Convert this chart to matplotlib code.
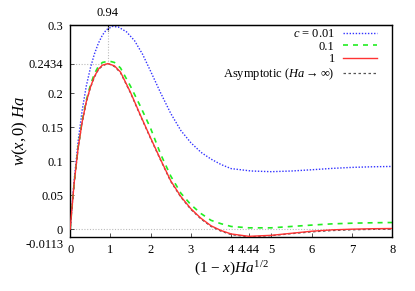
import matplotlib as mpl
mpl.use("Agg")
import matplotlib.pyplot as plt
import matplotlib.transforms as mtransforms

mpl.rcParams["font.family"] = ["Liberation Serif", "DejaVu Serif"]
mpl.rcParams["mathtext.fontset"] = "custom"
mpl.rcParams["mathtext.rm"] = "Liberation Serif"
mpl.rcParams["mathtext.it"] = "Liberation Serif:italic"
mpl.rcParams["xtick.direction"] = "in"
mpl.rcParams["ytick.direction"] = "in"

# VALUES
x_c001 = [0, 0.1, 0.2, 0.3, 0.4, 0.5, 0.6, 0.7, 0.8, 0.9, 1.05, 1.2, 1.4, 1.6, 1.8, 2.0,
          2.25, 2.5, 2.75, 3.0, 3.25, 3.5, 3.75, 4.0, 4.5, 5.0, 5.5, 6.0, 6.5, 7.0, 7.5, 8.0]
w_c001 = [0, 0.072, 0.130, 0.175, 0.210, 0.236, 0.257, 0.273, 0.285, 0.293, 0.298, 0.297,
          0.290, 0.277, 0.257, 0.232, 0.200, 0.170, 0.145, 0.127, 0.113, 0.103, 0.095, 0.089,
          0.0855, 0.0845, 0.0855, 0.0873, 0.0893, 0.0908, 0.0917, 0.0922]

x_c01 = [0, 0.1, 0.2, 0.3, 0.4, 0.5, 0.6, 0.7, 0.8, 0.97, 1.1, 1.25, 1.5, 1.75, 2.0,
         2.25, 2.5, 2.75, 3.0, 3.25, 3.5, 3.75, 4.0, 4.44, 5.0, 5.5, 6.0, 6.5, 7.0, 7.5, 8.0]
w_c01 = [0, 0.068, 0.121, 0.160, 0.189, 0.211, 0.228, 0.239, 0.245, 0.247, 0.245, 0.237,
         0.210, 0.180, 0.148, 0.110, 0.078, 0.053, 0.036, 0.023, 0.013, 0.008, 0.004,
         0.002, 0.002, 0.004, 0.006, 0.0078, 0.0088, 0.0094, 0.0098]

x_c1 = [0, 0.1, 0.2, 0.3, 0.4, 0.5, 0.6, 0.7, 0.8, 0.94, 1.1, 1.25, 1.5, 1.75, 2.0,
        2.25, 2.5, 2.75, 3.0, 3.25, 3.5, 3.75, 4.0, 4.44, 5.0, 5.5, 6.0, 6.5, 7.0, 7.5, 8.0]
w_c1 = [0, 0.068, 0.120, 0.158, 0.187, 0.208, 0.224, 0.235, 0.241, 0.2434, 0.240, 0.231,
        0.201, 0.167, 0.134, 0.102, 0.071, 0.048, 0.030, 0.016, 0.005, -0.002, -0.007,
        -0.0105, -0.009, -0.006, -0.003, -0.001, 0.0, 0.0007, 0.001]

x_asym = x_c1
w_asym = [0, 0.067, 0.119, 0.157, 0.186, 0.207, 0.223, 0.234, 0.240, 0.2434, 0.239, 0.230,
          0.200, 0.166, 0.133, 0.101, 0.070, 0.047, 0.029, 0.015, 0.004, -0.003, -0.008,
          -0.0113, -0.0095, -0.0066, -0.0040, -0.0021, -0.0009, -0.0003, 0.0]

peak_x, peak_w = 0.94, 0.2434
min_x, min_w = 4.44, -0.0113

xticks = [0, 1, 2, 3, 4, 4.44, 5, 6, 7, 8]
xticklabels = ["0", "1", "2", "3", "4", "4.44", "5", "6", "7", "8"]
yticks = [-0.0113, 0, 0.05, 0.1, 0.15, 0.2, 0.2434, 0.3]
yticklabels = ["-0.0113", "0", "0.05", "0.1", "0.15", "0.2", "0.2434", "0.3"]

fig = plt.figure(figsize=(4.15, 2.91), dpi=100)
ax = fig.add_axes([0.169, 0.186, 0.776, 0.728])

# GUIDE LINES
guide = dict(color="#bbbbbb", lw=0.8, ls=(0, (1, 1.5)), zorder=1)
ax.axhline(0, **guide)
ax.plot([0, peak_x], [peak_w, peak_w], **guide)
ax.plot([peak_x, peak_x], [peak_w, 0.3], **guide)

ax.plot(x_c001, w_c001, color="#3333ff", lw=1.0, ls=(0, (1, 1.2)), label=r"$c$ = 0.01")
ax.plot(x_c01, w_c01, color="#22ee22", lw=1.2, ls=(0, (3, 3)), label="0.1")
ax.plot(x_asym, w_asym, color="#555555", lw=0.9, ls=(0, (2, 2)), zorder=2)
ax.plot(x_c1, w_c1, color="#ff3333", lw=1.0, label="1", zorder=3)
ax.plot([], [], color="#555555", lw=0.9, ls=(0, (2, 2)),
        label=r"Asymptotic ($Ha \rightarrow \infty$)")

ax.set_xlim(0, 8)
ax.set_ylim(min_w, 0.3)
ax.set_xticks(xticks)
ax.set_xticklabels(xticklabels, fontsize=9)
ax.set_yticks(yticks)
ax.set_yticklabels(yticklabels, fontsize=9)
ax.tick_params(length=3, width=0.6, color="#333333", pad=5)

# NUDGE THE BOTTOM LABEL DOWN SO IT CLEARS "0"
lbl = ax.get_yticklabels()[0]
lbl.set_transform(lbl.get_transform() + mtransforms.ScaledTranslation(0, -5 / 72, fig.dpi_scale_trans))

top = ax.secondary_xaxis("top")
top.set_xticks([peak_x])
top.set_xticklabels(["0.94"], fontsize=9)
top.tick_params(direction="in", length=4, width=0.8, pad=4)

for s in ax.spines.values():
    s.set_linewidth(1.0)

ax.set_xlabel(r"$(1\ \mathrm{-}\ x)Ha^{1/2}$", fontsize=11, labelpad=3)
ax.set_ylabel(r"$w(x,0)\ Ha$", fontsize=12)
ax.yaxis.set_label_coords(-0.125, 0.5)

leg = ax.legend(loc="upper right", bbox_to_anchor=(1 - 15 / 322, 1 - 3 / 212),
                frameon=False, fontsize=9, markerfirst=False,
                handlelength=2.7, handletextpad=0.7, labelspacing=0.05,
                borderaxespad=0, borderpad=0)
for col in leg._legend_handle_box.get_children():
    col.align = "right"

fig.savefig("out.png", dpi=100)
